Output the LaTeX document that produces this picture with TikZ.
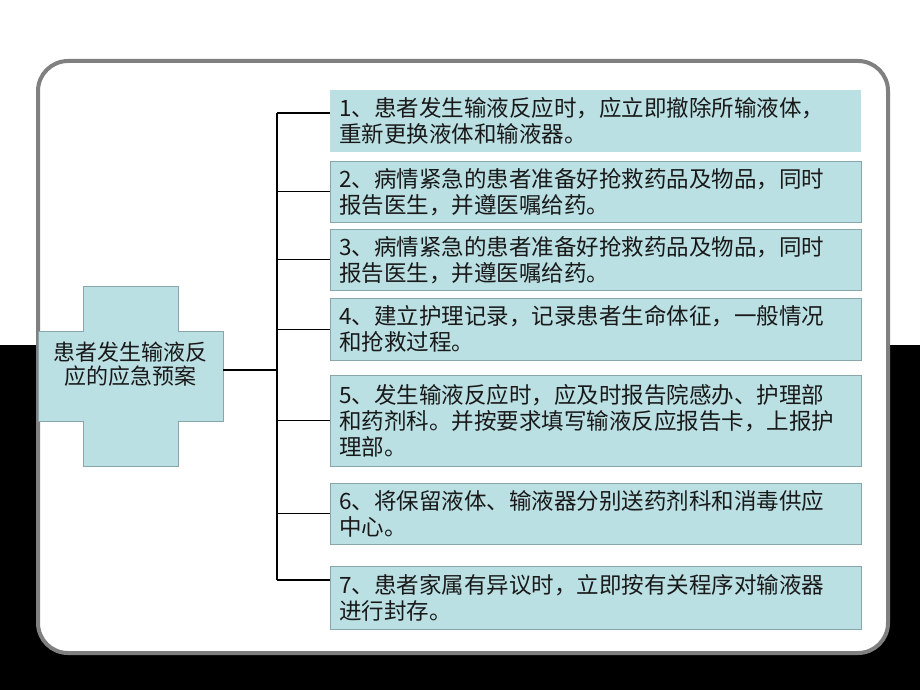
\documentclass[tikz,border=0pt]{standalone}
\usepackage{fontspec}
\setmainfont{Noto Sans CJK SC}
\usepackage{xcolor}
\usepackage{tikz}
\definecolor{boxfill}{HTML}{BBE0E3}
\definecolor{boxline}{HTML}{86A6AA}
\definecolor{framegray}{HTML}{808080}
\begin{document}
\begin{tikzpicture}[x=1pt,y=-1pt,
  item/.style={draw=boxline, fill=boxfill, anchor=north west, text width=513pt,
    inner xsep=9pt, inner ysep=0pt, align=left, text=black!90,
    font=\fontsize{22.5}{26}\selectfont},
  link/.style={line width=1.3pt, black}]
\useasboundingbox (0,0) rectangle (920,690);
\fill[white] (0,0) rectangle (920,345);
\fill[black] (0,345) rectangle (920,690);
\draw[framegray, line width=4pt, fill=white, rounded corners=30pt] (38,61) rectangle (888,653);

% cross shape
\draw[boxline, fill=boxfill] (83,286)--(178,286)--(178,331)--(223,331)--(223,421)--(178,421)
  --(178,466)--(83,466)--(83,421)--(38,421)--(38,331)--(83,331)--cycle;
\node (plan) at (130.5,364) [align=center, inner sep=0pt, text=black!90,
  font=\fontsize{22}{23.5}\selectfont] {患者发生输液反\\应的应急预案};

% steps
\node[item, draw=none, minimum height=62pt] (s1) at (330,90)
  {1、患者发生输液反应时，应立即撤除所输液体，\\重新更换液体和输液器。};
\node[item, minimum height=61pt] (s2) at (330,161)
  {2、病情紧急的患者准备好抢救药品及物品，同时\\报告医生，并遵医嘱给药。};
\node[item, minimum height=61pt] (s3) at (330,229)
  {3、病情紧急的患者准备好抢救药品及物品，同时\\报告医生，并遵医嘱给药。};
\node[item, minimum height=62pt] (s4) at (330,298)
  {4、建立护理记录，记录患者生命体征，一般情况\\和抢救过程。};
\node[item, minimum height=91pt] (s5) at (330,375)
  {5、发生输液反应时，应及时报告院感办、护理部\\和药剂科。并按要求填写输液反应报告卡，上报护\\理部。};
\node[item, minimum height=61pt] (s6) at (330,483)
  {6、将保留液体、输液器分别送药剂科和消毒供应\\中心。};
\node[item, minimum height=63pt] (s7) at (330,566)
  {7、患者家属有异议时，立即按有关程序对输液器\\进行封存。};

% connectors
\coordinate (crossE) at (223,370);
\coordinate (fork) at (277,370);
\coordinate (j1) at (277,113);
\coordinate (j7) at (277,580);
\draw[link] (crossE) -- (fork);
\draw[link] (j1) -- (j7);
\draw[link] (j1) -- (j1 -| s1.west);
\draw[link] (j7) -- (j7 -| s7.west);
\foreach \i in {2,...,6}
  \draw[link] (fork |- s\i.west) -- (s\i.west);
\end{tikzpicture}
\end{document}
